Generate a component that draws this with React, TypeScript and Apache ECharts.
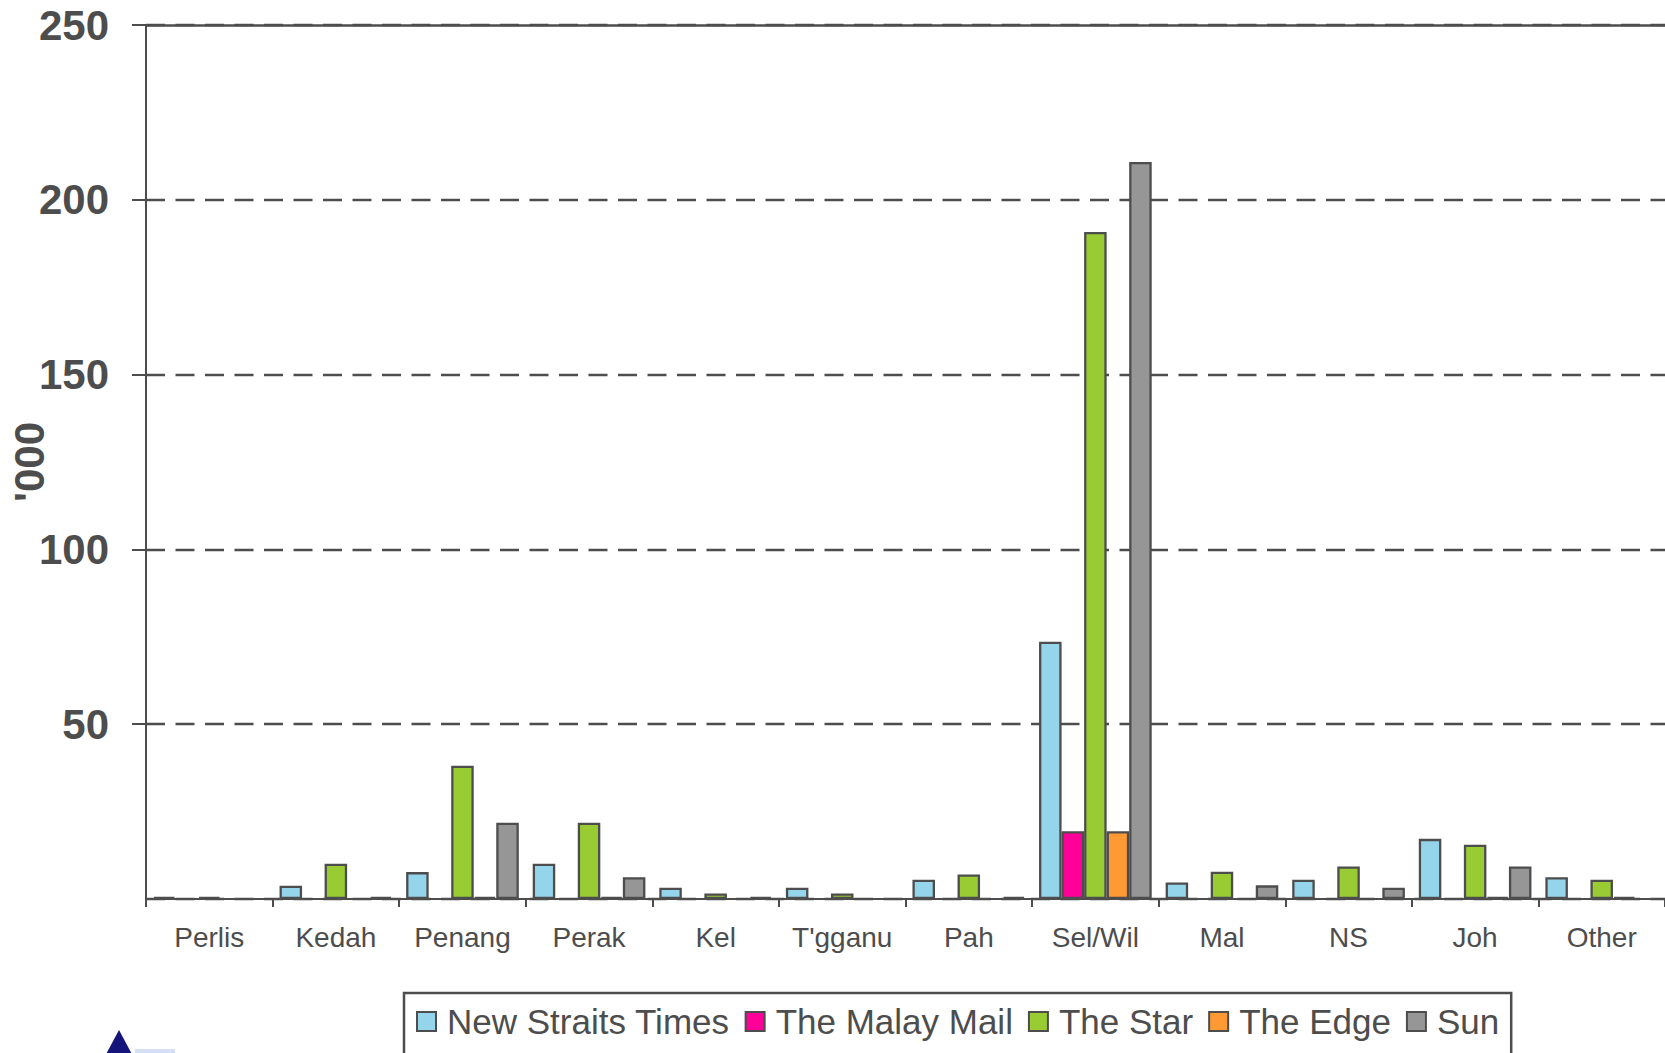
import React, { useEffect, useRef } from "react";
import * as echarts from "echarts";

const categories = ["Perlis", "Kedah", "Penang", "Perak", "Kel", "T'gganu", "Pah", "Sel/Wil", "Mal", "NS", "Joh", "Other"];
const seriesNames = ["New Straits Times", "The Malay Mail", "The Star", "The Edge", "Sun"];
const nst = [0.6, 3.8, 7.7, 10.1, 3.2, 3.2, 5.5, 73.6, 4.7, 5.5, 17.2, 6.2];
const malayMail = [null, null, null, null, null, null, null, 19.4, null, null, null, null];
const star = [0.6, 10.1, 38.1, 21.8, 1.6, 1.6, 7.0, 190.8, 7.8, 9.3, 15.5, 5.5];
const edge = [null, null, 0.6, 0.6, null, null, null, 19.4, null, null, 0.6, 0.6];
const sun = [null, 0.6, 21.8, 6.2, 0.6, null, 0.6, 210.8, 3.9, 3.2, 9.3, null];
const colors = ["#95D5EC", "#FF0099", "#99CC33", "#FF9933", "#969696"];
const yTicks = { min: 0, max: 250, interval: 50 };

const INK = "#4D4D4D";
const FONT = "Liberation Sans";

export default function App() {
  const ref = useRef<HTMLDivElement>(null);
  useEffect(() => {
    if (!ref.current) return;
    const chart = echarts.init(ref.current, null, { renderer: "svg" });
    const allData = [nst, malayMail, star, edge, sun];
    chart.setOption({
      animation: false,
      backgroundColor: "#ffffff",
      grid: { left: 146, right: 0, top: 25, bottom: 154, containLabel: false, outerBoundsMode: "none" },
      legend: {
        left: 404,
        top: 993,
        orient: "horizontal",
        itemWidth: 19,
        itemHeight: 19,
        itemGap: 15,
        padding: [11, 12, 20, 12],
        borderColor: INK,
        borderWidth: 2.5,
        icon: "rect",
        textStyle: { fontSize: 35, color: INK, fontFamily: FONT, padding: [0, 0, 0, 6] },
        data: seriesNames,
      },
      xAxis: [
        {
          type: "category",
          data: categories,
          position: "bottom",
          axisLine: { show: true, lineStyle: { color: INK, width: 2 } },
          axisTick: { show: true, length: 8, lineStyle: { color: INK, width: 2 } },
          axisLabel: { fontSize: 28, color: INK, fontFamily: FONT, margin: 24, interval: 0 },
        },
        {
          type: "category",
          data: categories,
          position: "top",
          axisLine: { show: true, lineStyle: { color: INK, width: 2.5 } },
          axisTick: { show: false },
          axisLabel: { show: false },
        },
      ],
      yAxis: {
        type: "value",
        min: yTicks.min,
        max: yTicks.max,
        interval: yTicks.interval,
        name: "'000",
        nameLocation: "middle",
        nameGap: 96,
        nameMoveOverlap: false,
        nameTextStyle: { fontSize: 42, fontWeight: "bold", color: INK, fontFamily: FONT },
        axisLine: { show: true, lineStyle: { color: INK, width: 2 } },
        axisTick: { show: true, length: 14, lineStyle: { color: INK, width: 2 } },
        axisLabel: { fontSize: 42, fontWeight: "bold", color: INK, fontFamily: FONT, margin: 37, showMinLabel: false },
        splitLine: { show: true, lineStyle: { color: INK, width: 2.3, type: [19, 10.5] } },
      },
      series: seriesNames.map((name, i) => ({
        name,
        type: "bar",
        data: allData[i],
        barGap: "0%",
        barCategoryGap: "11%",
        itemStyle: { color: colors[i], borderColor: INK, borderWidth: 2.3 },
      })),
      graphic: [
        {
          type: "polygon",
          shape: { points: [[119, 1030], [134, 1058], [104, 1058]] },
          style: { fill: "#14147A" },
        },
        {
          type: "rect",
          shape: { x: 135, y: 1049, width: 40, height: 4 },
          style: { fill: "#D6E0F5" },
        },
      ],
    });
    return () => chart.dispose();
  }, []);
  return <div ref={ref} style={{ position: "fixed", left: 0, top: 0, width: 1665, height: 1053 }} />;
}
